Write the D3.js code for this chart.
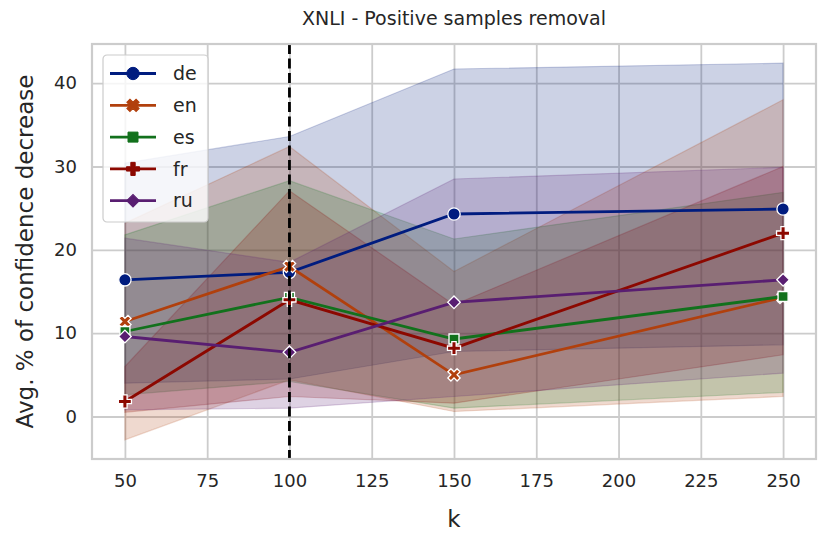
<!DOCTYPE html>
<html>
<head>
<meta charset="utf-8">
<script src="https://cdn.jsdelivr.net/npm/d3@7"></script>
<style>
body { margin: 0; background: #fff; }
text { font-family: "DejaVu Sans", sans-serif; fill: #262626; }
</style>
</head>
<body>
<div id="chart"></div>
<script>
// values
var kValues = [50, 100, 150, 250];
var languages = ["de", "en", "es", "fr", "ru"];

var deMean = [16.4, 17.3, 24.3, 24.9];
var deLow  = [4.0, 4.5, 7.8, 8.6];
var deHigh = [30.4, 33.6, 41.7, 42.4];

var enMean = [11.4, 18.0, 5.0, 14.3];
var enLow  = [-2.8, 4.4, 0.6, 2.4];
var enHigh = [23.2, 32.4, 17.4, 38.0];

var esMean = [10.2, 14.3, 9.3, 14.4];
var esLow  = [2.6, 4.2, 1.0, 2.9];
var esHigh = [21.8, 28.3, 21.3, 26.9];

var frMean = [1.8, 14.0, 8.2, 22.0];
var frLow  = [0.5, 2.4, 1.6, 7.4];
var frHigh = [6.0, 27.1, 13.4, 30.0];

var ruMean = [9.6, 7.7, 13.7, 16.4];
var ruLow  = [0.8, 1.0, 2.4, 5.2];
var ruHigh = [21.4, 18.5, 28.5, 29.9];

var xTicks = [50, 75, 100, 125, 150, 175, 200, 225, 250];
var yTicks = [0, 10, 20, 30, 40];
var markerK = 100;   // dashed vertical line

var colors = ["#001c7f", "#b1400d", "#12711c", "#8c0800", "#591e71"];

var svgWidth = 831, svgHeight = 545;
var margin = {top: 44, right: 15, bottom: 86, left: 92};

var svg = d3.select("#chart").append("svg")
    .attr("width", svgWidth)
    .attr("height", svgHeight);

var xScale = d3.scaleLinear()
    .domain([40, 260])
    .range([margin.left, svgWidth - margin.right]);

var yScale = d3.scaleLinear()
    .domain([-5.1, 44.7])
    .range([svgHeight - margin.bottom, margin.top]);

var series = [
    {name: "de", mean: deMean, low: deLow, high: deHigh},
    {name: "en", mean: enMean, low: enLow, high: enHigh},
    {name: "es", mean: esMean, low: esLow, high: esHigh},
    {name: "fr", mean: frMean, low: frLow, high: frHigh},
    {name: "ru", mean: ruMean, low: ruLow, high: ruHigh}
];

// marker shapes (seaborn: o, X, square, P, diamond)
function markerPath(i) {
    if (i == 0) return d3.symbol(d3.symbolCircle, 120)();
    if (i == 1) return d3.symbol(d3.symbolCross, 95)();
    if (i == 2) return d3.symbol(d3.symbolSquare, 100)();
    if (i == 3) return d3.symbol(d3.symbolCross, 95)();
    return d3.symbol(d3.symbolSquare, 80)();
}
function markerRotate(i) {
    return (i == 1 || i == 4) ? 45 : 0;
}

// grid
var xAxisGrid = d3.axisBottom(xScale)
    .tickValues(xTicks)
    .tickSize(-(svgHeight - margin.top - margin.bottom))
    .tickFormat("");
var yAxisGrid = d3.axisLeft(yScale)
    .tickValues(yTicks)
    .tickSize(-(svgWidth - margin.left - margin.right))
    .tickFormat("");

svg.append("g")
    .attr("transform", "translate(0," + (svgHeight - margin.bottom) + ")")
    .call(xAxisGrid)
    .call(g => g.select(".domain").remove())
    .selectAll("line").attr("stroke", "#cccccc").attr("stroke-width", 1.8);

svg.append("g")
    .attr("transform", "translate(" + margin.left + ",0)")
    .call(yAxisGrid)
    .call(g => g.select(".domain").remove())
    .selectAll("line").attr("stroke", "#cccccc").attr("stroke-width", 1.8);

// confidence bands
var area = d3.area()
    .x((d, i) => xScale(kValues[i]))
    .y0(d => yScale(d[0]))
    .y1(d => yScale(d[1]));

series.forEach(function(s, i) {
    var pts = s.low.map((v, j) => [v, s.high[j]]);
    svg.append("path")
        .datum(pts)
        .attr("d", area)
        .attr("fill", colors[i])
        .attr("fill-opacity", 0.2)
        .attr("stroke", colors[i])
        .attr("stroke-opacity", 0.2)
        .attr("stroke-width", 1.2);
});

// lines + markers
var line = d3.line()
    .x((d, i) => xScale(kValues[i]))
    .y(d => yScale(d));

series.forEach(function(s, i) {
    svg.append("path")
        .datum(s.mean)
        .attr("d", line)
        .attr("fill", "none")
        .attr("stroke", colors[i])
        .attr("stroke-width", 2.8);

    svg.selectAll(".m" + s.name)
        .data(s.mean)
        .enter().append("path")
        .attr("class", "m" + s.name)
        .attr("d", markerPath(i))
        .attr("transform", (d, j) => "translate(" + xScale(kValues[j]) + "," + yScale(d) + ") rotate(" + markerRotate(i) + ")")
        .attr("fill", colors[i])
        .attr("stroke", "white")
        .attr("stroke-width", 1.3);
});

// dashed vertical line
svg.append("line")
    .attr("x1", xScale(markerK)).attr("x2", xScale(markerK))
    .attr("y1", margin.top).attr("y2", svgHeight - margin.bottom)
    .attr("stroke", "black")
    .attr("stroke-width", 2.8)
    .attr("stroke-dasharray", "10,4.5");

// frame
svg.append("rect")
    .attr("x", margin.left).attr("y", margin.top)
    .attr("width", svgWidth - margin.left - margin.right)
    .attr("height", svgHeight - margin.top - margin.bottom)
    .attr("fill", "none")
    .attr("stroke", "#cccccc")
    .attr("stroke-width", 2.2);

// tick labels
var xAxis = d3.axisBottom(xScale).tickValues(xTicks).tickSize(0).tickPadding(15);
var yAxis = d3.axisLeft(yScale).tickValues(yTicks).tickSize(0).tickPadding(15);

svg.append("g")
    .attr("transform", "translate(0," + (svgHeight - margin.bottom) + ")")
    .call(xAxis)
    .call(g => g.select(".domain").remove())
    .selectAll("text")
    .style("font-family", "DejaVu Sans")
    .style("font-size", "18px")
    .attr("fill", "#262626");

svg.append("g")
    .attr("transform", "translate(" + margin.left + ",0)")
    .call(yAxis)
    .call(g => g.select(".domain").remove())
    .selectAll("text")
    .style("font-family", "DejaVu Sans")
    .style("font-size", "18px")
    .attr("fill", "#262626");

// title and axis labels
svg.append("text")
    .attr("x", (margin.left + svgWidth - margin.right) / 2)
    .attr("y", 25)
    .attr("text-anchor", "middle")
    .style("font-size", "19px")
    .text("XNLI - Positive samples removal");

svg.append("text")
    .attr("x", (margin.left + svgWidth - margin.right) / 2)
    .attr("y", 527)
    .attr("text-anchor", "middle")
    .style("font-size", "23px")
    .text("k");

svg.append("text")
    .attr("transform", "translate(33," + ((margin.top + svgHeight - margin.bottom) / 2) + ") rotate(-90)")
    .attr("text-anchor", "middle")
    .style("font-size", "23px")
    .text("Avg. % of confidence decrease");

// legend
var legend = svg.append("g").attr("transform", "translate(103,55)");
legend.append("rect")
    .attr("width", 105).attr("height", 167)
    .attr("rx", 4)
    .attr("fill", "white").attr("fill-opacity", 0.8)
    .attr("stroke", "#cccccc").attr("stroke-width", 1.2);

languages.forEach(function(name, i) {
    var ly = 18.5 + i * 31.8;
    legend.append("line")
        .attr("x1", 7).attr("x2", 53)
        .attr("y1", ly).attr("y2", ly)
        .attr("stroke", colors[i]).attr("stroke-width", 2.8);
    legend.append("path")
        .attr("d", markerPath(i))
        .attr("transform", "translate(30," + ly + ") rotate(" + markerRotate(i) + ")")
        .attr("fill", colors[i])
        .attr("stroke", colors[i]).attr("stroke-width", 1);
    legend.append("text")
        .attr("x", 70).attr("y", ly)
        .attr("dy", "0.35em")
        .style("font-size", "19px")
        .text(name);
});
</script>
</body>
</html>
